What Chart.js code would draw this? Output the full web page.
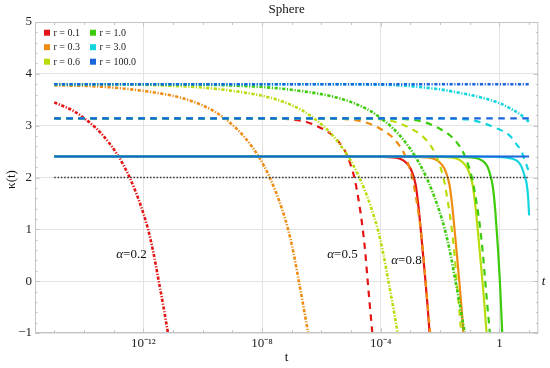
<!DOCTYPE html>
<html><head><meta charset="utf-8">
<style>html,body{margin:0;padding:0;background:#fff;} canvas{display:block;}</style>
<script src="https://cdn.jsdelivr.net/npm/chart.js@4.4.1/dist/chart.umd.min.js"></script>
</head><body>
<canvas id="c" width="550" height="368"></canvas>
<script>
// ===== DATA (x values are log10 t) =====
const rLabels = ['r = 0.1','r = 0.3','r = 0.6','r = 1.0','r = 3.0','r = 100.0'];
const rColors = ['#e41414','#ee8c14','#b8dc0c','#3ccc0c','#14d4e0','#1a64dc'];

const xTickValues = [-12, -8, -4, 0];
const xTickLabels = ['10\u207B\u00B9\u00B2', '10\u207B\u2078', '10\u207B\u2074', '1'];
const yTickValues = [-1, 0, 1, 2, 3, 4, 5];

// alpha = 0.2 (dot-dashed)
const a02_r01_x = [-15, -14.34, -13.96, -13.59, -13.34, -13.09, -12.84, -12.64, -12.46, -12.24, -12.04, -11.84, -11.66, -11.48, -11.32, -11.17, -11.09];
const a02_r01_y = [3.45, 3.28, 3.13, 2.95, 2.80, 2.62, 2.41, 2.21, 2.0, 1.7, 1.38, 1.0, 0.55, 0.0, -0.5, -1.0, -1.3];
const a02_r03_x = [-15, -14.12, -13.12, -12.12, -11.12, -10.62, -10.12, -9.62, -9.24, -8.87, -8.62, -8.37, -8.12, -7.92, -7.74, -7.52, -7.32, -7.12, -6.94, -6.76, -6.6, -6.45, -6.37];
const a02_r03_y = [3.775, 3.77, 3.74, 3.68, 3.59, 3.52, 3.42, 3.28, 3.13, 2.95, 2.80, 2.62, 2.41, 2.21, 2.0, 1.7, 1.38, 1.0, 0.55, 0.0, -0.5, -1.0, -1.3];
const a02_r06_x = [-15, -12.6, -11.1, -10.1, -9.1, -8.1, -7.6, -7.1, -6.6, -6.22, -5.85, -5.6, -5.35, -5.1, -4.9, -4.72, -4.5, -4.3, -4.1, -3.92, -3.74, -3.58, -3.43, -3.35];
const a02_r06_y = [3.80, 3.795, 3.77, 3.74, 3.68, 3.59, 3.52, 3.42, 3.28, 3.13, 2.95, 2.80, 2.62, 2.41, 2.21, 2.0, 1.7, 1.38, 1.0, 0.55, 0.0, -0.5, -1.0, -1.3];
const a02_r10_x = [-15, -10.34, -8.84, -7.84, -6.84, -5.84, -5.34, -4.84, -4.34, -3.96, -3.59, -3.34, -3.09, -2.84, -2.64, -2.46, -2.24, -2.04, -1.84, -1.66, -1.48, -1.32, -1.17, -1.09];
const a02_r10_y = [3.80, 3.795, 3.77, 3.74, 3.68, 3.59, 3.52, 3.42, 3.28, 3.13, 2.95, 2.80, 2.62, 2.41, 2.21, 2.0, 1.7, 1.38, 1.0, 0.55, 0.0, -0.5, -1.0, -1.3];
const a02_r30_x = [-15, -6, -4, -3, -2.45, -2, -1.32, -0.65, 0.02, 0.47, 0.81, 1.0];
const a02_r30_y = [3.8, 3.8, 3.79, 3.765, 3.73, 3.70, 3.63, 3.55, 3.43, 3.3, 3.17, 3.07];
const a02_r100_x = [-15, 1];
const a02_r100_y = [3.8, 3.8];

// alpha = 0.5 (dashed)
const a05_r01_x = [-15, -9, -8, -7, -6.5, -6, -5.6, -5.35, -5.15, -5.0, -4.88, -4.78, -4.68, -4.6, -4.52, -4.45, -4.37, -4.29, -4.25];
const a05_r01_y = [3.1416, 3.1416, 3.14, 3.12, 3.07, 2.95, 2.8, 2.64, 2.45, 2.22, 1.98, 1.68, 1.32, 0.98, 0.55, 0.08, -0.45, -0.95, -1.2];
const a05_r03_x = [-15, -7.05, -6.05, -5.05, -4.55, -4.05, -3.65, -3.4, -3.2, -3.05, -2.93, -2.83, -2.73, -2.65, -2.57, -2.5, -2.42, -2.34, -2.3];
const a05_r03_y = [3.1416, 3.1416, 3.14, 3.12, 3.07, 2.95, 2.8, 2.64, 2.45, 2.22, 1.98, 1.68, 1.32, 0.98, 0.55, 0.08, -0.45, -0.95, -1.2];
const a05_r06_x = [-15, -6, -5, -4, -3.5, -3, -2.6, -2.35, -2.15, -2.0, -1.88, -1.78, -1.68, -1.6, -1.52, -1.45, -1.37, -1.29, -1.25];
const a05_r06_y = [3.1416, 3.1416, 3.14, 3.12, 3.07, 2.95, 2.8, 2.64, 2.45, 2.22, 1.98, 1.68, 1.32, 0.98, 0.55, 0.08, -0.45, -0.95, -1.2];
const a05_r10_x = [-15, -5.04, -4.04, -3.04, -2.54, -2.04, -1.64, -1.39, -1.19, -1.04, -0.92, -0.82, -0.72, -0.64, -0.56, -0.49, -0.41, -0.33, -0.29];
const a05_r10_y = [3.1416, 3.1416, 3.14, 3.12, 3.07, 2.95, 2.8, 2.64, 2.45, 2.22, 1.98, 1.68, 1.32, 0.98, 0.55, 0.08, -0.45, -0.95, -1.2];
const a05_r30_x = [-15, -3, -2.1, -1.1, -0.6, -0.1, 0.1, 0.36, 0.59, 0.75, 0.87, 0.95, 1.0];
const a05_r30_y = [3.1416, 3.1416, 3.14, 3.12, 3.06, 2.95, 2.9, 2.8, 2.63, 2.5, 2.3, 2.18, 2.05];
const a05_r100_x = [-15, 1];
const a05_r100_y = [3.1416, 3.1416];

// alpha = 0.8 (solid)
const a08_r01_x = [-15, -5, -4, -3.6, -3.35, -3.15, -3.0, -2.9, -2.82, -2.74, -2.66, -2.58, -2.5, -2.43, -2.36, -2.32];
const a08_r01_y = [2.405, 2.405, 2.40, 2.39, 2.36, 2.29, 2.18, 2.03, 1.85, 1.5, 1.05, 0.55, 0.05, -0.42, -0.95, -1.25];
const a08_r03_x = [-15, -3.86, -2.86, -2.46, -2.21, -2.01, -1.86, -1.76, -1.68, -1.6, -1.52, -1.44, -1.36, -1.29, -1.22, -1.18];
const a08_r03_y = [2.405, 2.405, 2.40, 2.39, 2.36, 2.29, 2.18, 2.03, 1.85, 1.5, 1.05, 0.55, 0.05, -0.42, -0.95, -1.25];
const a08_r06_x = [-15, -3.08, -2.08, -1.68, -1.43, -1.23, -1.08, -0.98, -0.9, -0.82, -0.74, -0.66, -0.58, -0.51, -0.44, -0.40];
const a08_r06_y = [2.405, 2.405, 2.40, 2.39, 2.36, 2.29, 2.18, 2.03, 1.85, 1.5, 1.05, 0.55, 0.05, -0.42, -0.95, -1.25];
const a08_r10_x = [-15, -2.5, -1.5, -1.0, -0.7, -0.5, -0.38, -0.3, -0.23, -0.16, -0.1, -0.04, 0.01, 0.05, 0.09, 0.12];
const a08_r10_y = [2.405, 2.405, 2.40, 2.39, 2.36, 2.29, 2.18, 2.03, 1.85, 1.5, 1.05, 0.55, 0.05, -0.42, -0.95, -1.25];
const a08_r30_x = [-15, -1, -0.2, 0.2, 0.45, 0.64, 0.75, 0.85, 0.92, 0.97, 1.0];
const a08_r30_y = [2.405, 2.405, 2.40, 2.39, 2.36, 2.30, 2.2, 2.03, 1.87, 1.6, 1.27];
const a08_r100_x = [-15, 1];
const a08_r100_y = [2.405, 2.405];

// reference level
const ref_x = [-15, 1];
const ref_y = [2, 2];

// ===== BUILD =====
const FONT = '"Liberation Serif", "Times New Roman", serif';
function pts(xs, ys){ return xs.map((v,i)=>({x:v, y:ys[i]})); }
const styles = {
  a02: {borderWidth: 2.6, borderDash: [3.2,1.6,1.2,1.6]},
  a05: {borderWidth: 2.2, borderDash: [6.5,5.5]},
  a08: {borderWidth: 2.2, borderDash: []}
};
const groups = {
  a02: [[a02_r01_x,a02_r01_y],[a02_r03_x,a02_r03_y],[a02_r06_x,a02_r06_y],[a02_r10_x,a02_r10_y],[a02_r30_x,a02_r30_y],[a02_r100_x,a02_r100_y]],
  a05: [[a05_r01_x,a05_r01_y],[a05_r03_x,a05_r03_y],[a05_r06_x,a05_r06_y],[a05_r10_x,a05_r10_y],[a05_r30_x,a05_r30_y],[a05_r100_x,a05_r100_y]],
  a08: [[a08_r01_x,a08_r01_y],[a08_r03_x,a08_r03_y],[a08_r06_x,a08_r06_y],[a08_r10_x,a08_r10_y],[a08_r30_x,a08_r30_y],[a08_r100_x,a08_r100_y]]
};
const datasets = [];
// blue (r=100) lines first so they are drawn on top
for (let ri = 5; ri >= 0; ri--) {
  for (const g of ['a02','a05','a08']) {
    const [xs, ys] = groups[g][ri];
    datasets.push(Object.assign({
      label: rLabels[ri] + ' ' + g,
      data: pts(xs, ys),
      borderColor: rColors[ri],
      backgroundColor: rColors[ri],
      pointRadius: 0,
      fill: false,
      cubicInterpolationMode: 'monotone',
      borderCapStyle: 'butt',
      clip: 0
    }, styles[g]));
  }
  if (ri === 5) {
    datasets.push({label:'ref', data: pts(ref_x, ref_y), borderColor:'#333', borderWidth:1.5,
      borderDash:[1.5,1.8], pointRadius:0, fill:false, clip:0});
  }
}

const gridColor = '#e3e3e3';
const frameColor = '#c4c4c4';

const decor = {
  id: 'decor',
  afterDraw(chart) {
    const {ctx, chartArea: a, scales: {x, y}} = chart;
    ctx.save();
    ctx.strokeStyle = frameColor; ctx.lineWidth = 1;
    ctx.strokeRect(a.left + 0.5, a.top + 0.5, a.right - a.left - 1, a.bottom - a.top - 1);
    const seg = (x1,y1,x2,y2)=>{ctx.beginPath();ctx.moveTo(x1,y1);ctx.lineTo(x2,y2);ctx.stroke();};
    for (let v = Math.ceil(x.min); v <= Math.floor(x.max); v++) {
      const px = Math.round(x.getPixelForValue(v)) + 0.5;
      const len = (v % 4 === 0) ? 4.5 : 3;
      seg(px, a.bottom, px, a.bottom - len);
      seg(px, a.top, px, a.top + len);
    }
    for (let i = 0; i <= 30; i++) {
      const v = -1 + i * 0.2;
      const py = Math.round(y.getPixelForValue(v)) + 0.5;
      const len = (i % 5 === 0) ? 4.5 : 2.5;
      seg(a.left, py, a.left + len, py);
      seg(a.right, py, a.right - len, py);
    }
    // texts
    ctx.fillStyle = '#111';
    ctx.textAlign = 'center'; ctx.textBaseline = 'middle';
    ctx.font = '13px ' + FONT;
    ctx.fillText('Sphere', (a.left + a.right) / 2, 10);
    ctx.fillText('t', (a.left + a.right) / 2, 358);
    ctx.font = 'italic 13px ' + FONT;
    ctx.fillText('t', 543.5, y.getPixelForValue(0));
    ctx.save();
    ctx.translate(12, (a.top + a.bottom) / 2 + 2);
    ctx.rotate(-Math.PI / 2);
    ctx.font = '13px ' + FONT;
    ctx.fillText('\u03BA(t)', 0, 0);
    ctx.restore();
    // alpha labels
    const alab = (txt, cx, cy) => {
      ctx.textAlign = 'left';
      ctx.font = 'italic 13px ' + FONT;
      const w1 = ctx.measureText('\u03B1').width;
      ctx.font = '13px ' + FONT;
      const w2 = ctx.measureText(txt).width;
      const sx = cx - (w1 + w2) / 2;
      ctx.font = 'italic 13px ' + FONT;
      ctx.fillText('\u03B1', sx, cy);
      ctx.font = '13px ' + FONT;
      ctx.fillText(txt, sx + w1, cy);
    };
    alab('=0.2', 131.5, 255);
    alab('=0.5', 342.5, 255);
    alab('=0.8', 406.5, 260.5);
    // legend
    ctx.font = '10px ' + FONT;
    ctx.textAlign = 'left';
    const colX = [44, 90], rowY = [32.7, 47.2, 61.7];
    for (let i = 0; i < 6; i++) {
      const c = Math.floor(i / 3), r = i % 3;
      ctx.fillStyle = rColors[i];
      ctx.fillRect(colX[c], rowY[r] - 3, 6, 6);
      ctx.fillStyle = '#222';
      ctx.fillText(rLabels[i], colX[c] + 9.5, rowY[r] + 0.5);
    }
    ctx.restore();
  }
};

new Chart(document.getElementById('c'), {
  type: 'line',
  data: { datasets },
  options: {
    responsive: false, animation: false, devicePixelRatio: 1,
    layout: { padding: { left: 0, top: 22, right: 11.7, bottom: 0 } },
    plugins: { legend: { display: false }, tooltip: { enabled: false }, title: { display: false } },
    scales: {
      x: {
        type: 'linear', min: -15.65, max: 1.31,
        afterFit: s => { s.height = 35; },
        afterBuildTicks: s => { const t = []; for (let v = -15; v <= 1; v++) t.push({value: v}); s.ticks = t; },
        grid: { drawTicks: false, color: c => (c.tick && xTickValues.includes(c.tick.value)) ? gridColor : 'rgba(0,0,0,0)' },
        border: { display: false },
        ticks: {
          autoSkip: false, maxRotation: 0, padding: 3, color: '#222',
          font: { family: FONT, size: 13 },
          callback: v => { const i = xTickValues.indexOf(v); return i >= 0 ? xTickLabels[i] : ''; }
        }
      },
      y: {
        type: 'linear', min: -1, max: 5,
        afterFit: s => { s.width = 35; },
        afterBuildTicks: s => { s.ticks = yTickValues.map(v => ({value: v})); },
        grid: { drawTicks: false, color: gridColor },
        border: { display: false },
        ticks: {
          padding: 3, color: '#222', font: { family: FONT, size: 13 },
          callback: v => String(v).replace('-', '\u2212')
        }
      }
    }
  },
  plugins: [decor]
});
</script>
</body></html>
